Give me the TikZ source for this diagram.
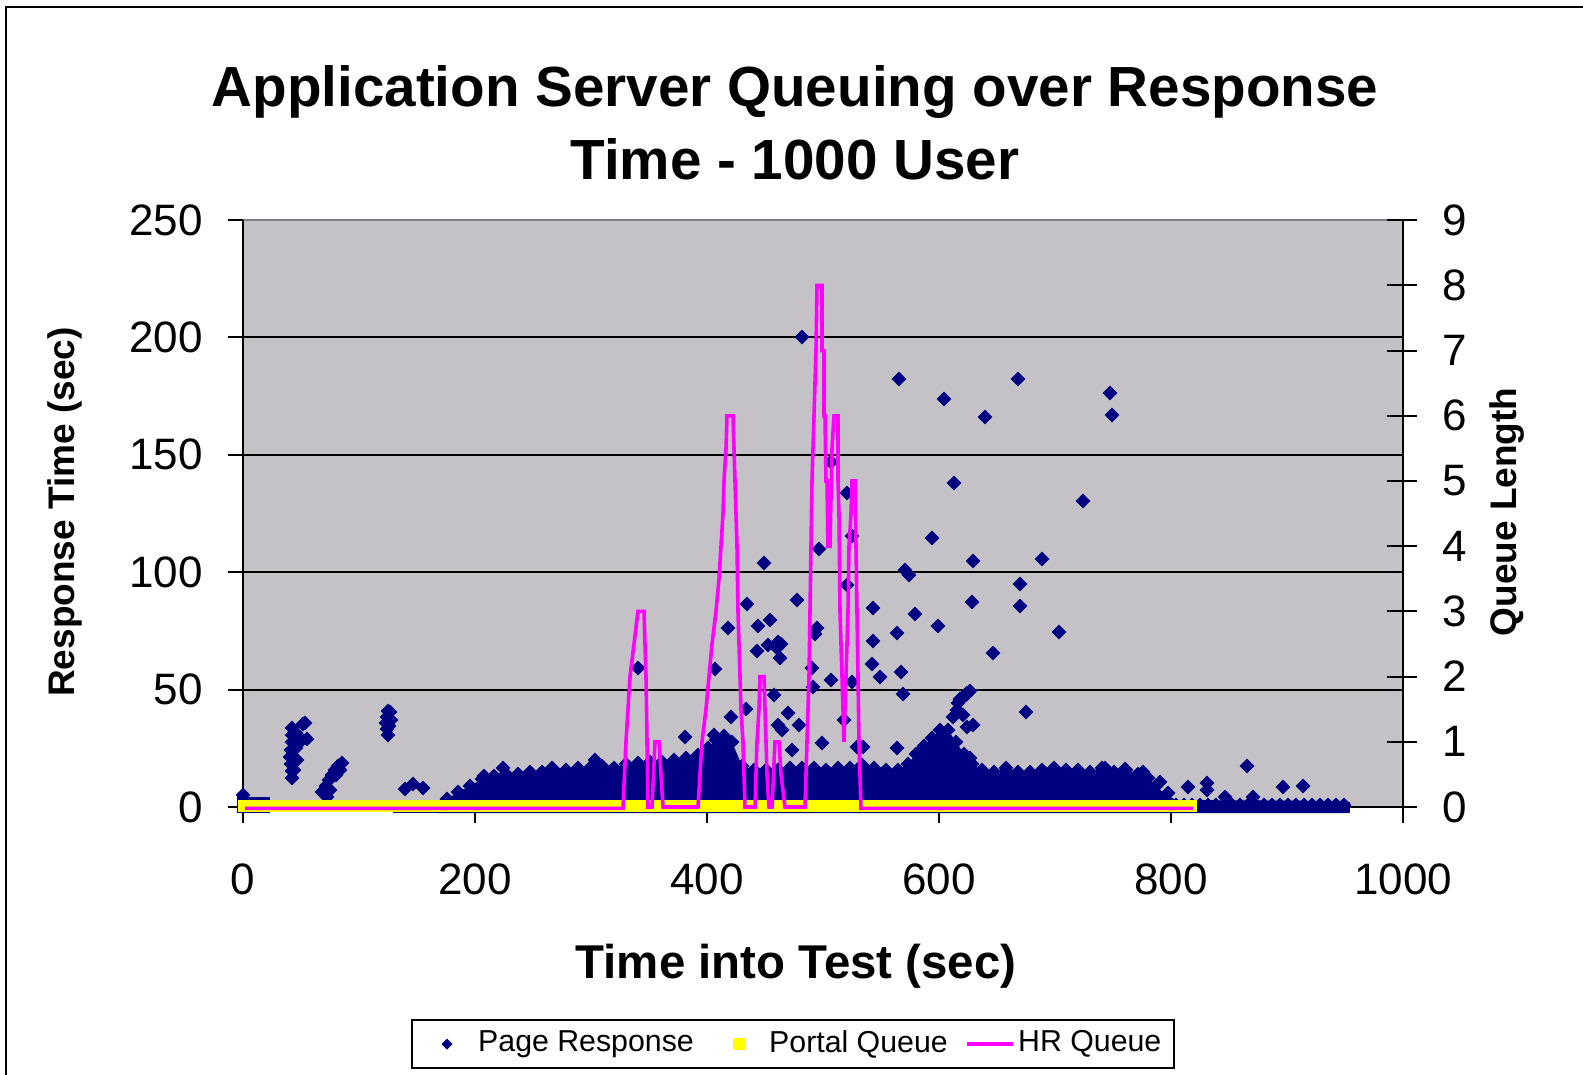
\documentclass[tikz,border=0pt]{standalone}
\usepackage{fontspec}
\setmainfont{Liberation Sans}
\definecolor{navyc}{RGB}{0,0,128}
\definecolor{plotbg}{RGB}{196,194,198}
\definecolor{hrq}{RGB}{255,0,255}
\definecolor{portq}{RGB}{255,255,0}
\definecolor{frameg}{RGB}{128,128,128}
\tikzset{
  ticklbl/.style={inner sep=0pt, font=\fontsize{44}{48}\selectfont},
  titlelbl/.style={inner sep=0pt, font=\fontsize{56.6}{60}\selectfont\bfseries},
  xtitle/.style={inner sep=0pt, font=\fontsize{47.4}{50}\selectfont\bfseries},
  ytitle/.style={inner sep=0pt, rotate=90, font=\fontsize{37}{40}\selectfont\bfseries},
  legtext/.style={inner sep=0pt, anchor=west, font=\fontsize{30.3}{34}\selectfont},
  axisline/.style={draw=black, line width=2pt},
  gridl/.style={draw=black, line width=2pt},
  hrline/.style={draw=hrq, line width=3.6pt, line join=miter},
}
\newcommand\dmd[2]{\fill[navyc] (#1,#2) +(0,-7.3) -- +(7.3,0) -- +(0,7.3) -- +(-7.3,0) -- cycle;}
\begin{document}
\begin{tikzpicture}[x=1pt,y=-1pt]
\useasboundingbox (0,0) rectangle (1583,1075);
\fill[white] (0,0) rectangle (1583,1075);
% outer frame (left and top)
\draw[line width=2pt, black] (6,1075) -- (6,7) -- (1583,7);

% titles
\node[titlelbl, anchor=base] (t1) at (795,107) {Application Server Queuing over Response};
\node[titlelbl, anchor=base] (t2) at (795,180) {Time - 1000 User};
\node[xtitle, anchor=base] (xt) at (796,978) {Time into Test (sec)};
\node[ytitle, anchor=base] (ylt) at (74,512) {Response Time (sec)};
\node[ytitle, anchor=base] (yrt) at (1516,512) {Queue Length};

% plot area
\fill[plotbg] (243,220) rectangle (1403,807);
\foreach \yy in {689.6,572.2,454.8,337.4} \draw[gridl] (243,\yy) -- (1403,\yy);
\draw[line width=2pt, frameg] (243,220) -- (1403,220);
\draw[axisline] (243,220) -- (243,807) -- (1403,807) -- (1403,220);

% left ticks
\foreach \v/\yy in {0/807,50/689.6,100/572.2,150/454.8,200/337.4,250/220.2} {
  \draw[axisline] (228,\yy) -- (243,\yy);
  \node[ticklbl, anchor=east] (yl\v) at (203,\yy) {\v};
}
% bottom ticks
\foreach \v/\xx in {0/243,200/475,400/707,600/939,800/1171,1000/1403} {
  \draw[axisline] (\xx,807) -- (\xx,823);
  \node[ticklbl] (xl\v) at (\xx,879) {\v};
}
% right ticks
\foreach \v in {0,...,9} {
  \pgfmathsetmacro\yy{807-65.2*\v}
  \draw[axisline] (1387,\yy) -- (1417,\yy);
  \node[ticklbl, anchor=west] (yr\v) at (1442,\yy) {\v};
}

% ---- Page Response scatter ----
% bottom navy band
\fill[navyc] (237,797) rectangle (270,813);
\fill[navyc] (393,802) rectangle (1350,813);
% dense region
\fill[navyc] (437,813) -- (437,806) -- (447,799) -- (458,792) -- (470,786) -- (482,779) -- (494,776) -- (506,774) -- (518,774) -- (530,772) -- (542,772) -- (554,770) -- (566,770) -- (578,768) -- (590,768) -- (602,766) -- (614,768) -- (626,764) -- (638,763) -- (650,762) -- (662,762) -- (674,760) -- (686,758) -- (698,755) -- (708,748) -- (716,740) -- (724,736) -- (732,742) -- (742,766) -- (754,770) -- (766,770) -- (778,770) -- (790,768) -- (802,768) -- (814,768) -- (826,770) -- (838,768) -- (850,768) -- (862,765) -- (874,768) -- (886,770) -- (898,770) -- (908,764) -- (916,754) -- (924,746) -- (932,738) -- (940,730) -- (948,730) -- (956,742) -- (964,754) -- (972,764) -- (982,770) -- (994,772) -- (1006,768) -- (1018,772) -- (1030,772) -- (1042,770) -- (1054,768) -- (1066,770) -- (1078,770) -- (1090,772) -- (1102,768) -- (1114,772) -- (1126,770) -- (1138,774) -- (1148,778) -- (1156,786) -- (1166,795) -- (1176,800) -- (1348,801) -- (1348,813) -- cycle;
\foreach \x/\y in {447/799,458/792,470/786,482/779,494/776,506/774,518/774,530/772,542/772,554/770,566/770,578/768,590/768,602/766,614/768,626/764,638/763,650/762,662/762,674/760,686/758,698/755,708/748,716/740,724/736,732/742,742/766,754/770,766/770,778/770,790/768,802/768,814/768,826/770,838/768,850/768,862/765,874/768,886/770,898/770,908/764,916/754,924/746,932/738,940/730,948/730,956/742,964/754,972/764,982/770,994/772,1006/768,1018/772,1030/772,1042/770,1054/768,1066/770,1078/770,1090/772,1102/768,1114/772,1126/770,1138/774,1148/778,1156/786,1166/795}
  {\dmd{\x}{\y}}
\foreach \x in {1176,1184,...,1344} {\dmd{\x}{805}}
% isolated points
\foreach \x/\y in {802/337,899/379,1018/379,944/399,985/417,1110/393,1112/415,831/462,847/493,954/483,1083/501,852/536,932/538,819/549,764/563,973/561,1042/559,905/570,909/575,847/585,1020/584,747/604,797/600,972/602,1020/606,873/608,915/614,770/620,728/628,758/626,817/628,815/634,938/626,1059/632,897/633,873/641,778/642,768/645,777/648,781/644,757/651,780/658,993/653,715/669,638/668,872/664,880/677,901/672,812/668,831/680,852/682,774/695,903/694,967/693,813/687,746/709,731/717,714/735,788/713,799/725,778/725,782/730,958/703,957/710,963/715,953/717,967/727,973/725,960/699,966/695,970/691,1026/712,822/743,844/720,792/750,726/754,897/748,920/752,970/758,857/747,863/747,685/737,503/768,484/776,552/768,595/760,405/789,413/784,423/788,243/795,1105/768,1125/769,1143/772,1160/782,1168/793,1188/787,1207/783,1207/790,1247/766,1283/787,1303/786,1225/797,1253/797}
  {\dmd{\x}{\y}}
% clusters at start
\foreach \x/\y in {292/728,292/735,292/742,291/750,290/757,291/764,292/771,292/778,296/733,303/724,305/723,302/740,307/739,296/748,297/760,294/770,322/792,326/786,329/780,332/775,335/770,338/766,342/763,336/775,330/790,327/797,340/770,388/711,387/717,386/723,387/729,388/735,390/712,391/720,389/726}
  {\dmd{\x}{\y}}

% ---- Portal Queue ----
\fill[portq] (238,800) rectangle (1197,812);

% ---- HR Queue ----
\begin{scope}[shift={(0,807)}, y=65.2pt]
\draw[hrline] (245,-0.02) -- (623,-0.02) -- (626,1) -- (630,2) -- (634,2.5) -- (638,3) -- (644,3) -- (646,2) -- (647,1) -- (648,0) -- (652,0) -- (655,1) -- (659,1) -- (663,0) -- (698,0) -- (702,1) -- (706,1.5) -- (709,2) -- (712,2.5) -- (716,3) -- (719,3.5) -- (721,4) -- (723,4.5) -- (724,5) -- (726,5.5) -- (727,6) -- (733,6) -- (734,5.5) -- (735,5) -- (736,4.5) -- (737,4) -- (738,3) -- (739,2.5) -- (741,1.5) -- (743,1) -- (745,0) -- (755,0) -- (757,1) -- (759,1.5) -- (760,2) -- (764,2) -- (765,1.5) -- (767,0.5) -- (769,0) -- (772,0) -- (775,1) -- (779,1) -- (781,0.5) -- (785,0) -- (805,0) -- (807,1) -- (809,2) -- (810,3) -- (811,4) -- (812,5) -- (814,6) -- (815,6.5) -- (816,7) -- (817,8) -- (822,8) -- (822,7) -- (824,7) -- (824,6) -- (825,6) -- (826,5) -- (827,5) -- (828,4) -- (830,4) -- (832,5.5) -- (834,6) -- (838,6) -- (838,5) -- (839,4.5) -- (840,3) -- (842,2) -- (844,1) -- (846,2) -- (848,3) -- (849,4) -- (851,4.5) -- (852,5) -- (855,5) -- (856,4) -- (857,3) -- (858,2) -- (859,1) -- (861,-0.02) -- (1193,-0.02);
\end{scope}

% ---- Legend ----
\draw[line width=1.5pt, black] (412,1020) rectangle (1174,1068);
\fill[navyc] (447,1044) +(0,-5.5) -- +(5.5,0) -- +(0,5.5) -- +(-5.5,0) -- cycle;
\node[legtext] (lg1) at (478,1044) {Page Response};
\fill[portq] (733,1038) rectangle (745,1050);
\node[legtext] (lg2) at (769,1044) {Portal Queue};
\draw[hrline] (967,1044) -- (1013,1044);
\node[legtext] (lg3) at (1018,1044) {HR Queue};
\end{tikzpicture}
\end{document}
